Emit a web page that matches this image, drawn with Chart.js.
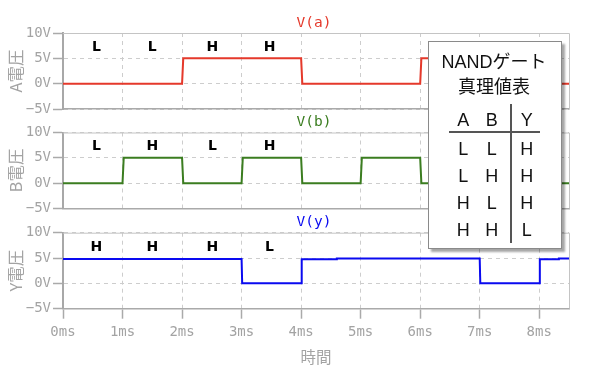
<!DOCTYPE html>
<html>
<head>
<meta charset="utf-8">
<script src="https://cdn.jsdelivr.net/npm/chart.js@4.4.1/dist/chart.umd.min.js"></script>
<style>
  body { margin: 0; background: #fff; }
  #wrap { position: relative; width: 600px; height: 374px; overflow: hidden; }
  #wrap canvas { position: absolute; left: 0; top: 0; }
  #box { position: absolute; left: 428px; top: 41px; width: 132px; height: 206px;
         background: #fff; border: 1px solid #8a8a8a; box-shadow: 3px 3px 2px rgba(0,0,0,0.35); }
  .cell { position: absolute; font-family: "Liberation Sans", "Noto Sans CJK JP", sans-serif;
          font-size: 18px; line-height: 18px; color: #111; text-align: center; white-space: nowrap; }
  .rule { position: absolute; background: #555; }
</style>
</head>
<body>
<div id="wrap">
  <canvas id="chartA" width="600" height="374"></canvas>
  <canvas id="chartB" width="600" height="374"></canvas>
  <canvas id="chartY" width="600" height="374"></canvas>
  <div id="box"></div>
  <div id="truth"></div>
</div>
<script>
// waveforms (ms, V)
const timesA = [0, 2, 2.02, 4, 4.02, 6, 6.02, 8, 8.02, 8.5];
const voltsA = [0, 0, 5, 5, 0, 0, 5, 5, 0, 0];
const timesB = [0, 1, 1.02, 2, 2.02, 3, 3.02, 4, 4.02, 5, 5.02, 6, 6.02, 7, 7.02, 8, 8.02, 8.5];
const voltsB = [0, 0, 5, 5, 0, 0, 5, 5, 0, 0, 5, 5, 0, 0, 5, 5, 0, 0];
const timesY = [0, 3, 3.01, 4, 4.01, 4.6, 4.6, 7, 7.01, 8, 8.01, 8.33, 8.33, 8.5];
const voltsY = [4.8, 4.8, 0, 0, 4.75, 4.75, 4.9, 4.9, 0, 0, 4.75, 4.75, 4.9, 4.9];

// logic level marks above each trace
const levelTimes = [0.56, 1.5, 2.51, 3.47];
const levelVolt = 7.2;
const levelsA = ["L", "L", "H", "H"];
const levelsB = ["L", "H", "L", "H"];
const levelsY = ["H", "H", "H", "L"];

// truth table
const truthTitle = ["NANDゲート", "真理値表"];
const truthHead = ["A", "B", "Y"];
const truthA = ["L", "L", "H", "H"];
const truthB = ["L", "H", "L", "H"];
const truthY = ["H", "H", "H", "L"];

const gray = "#a3a3a3";
const tickFont = { family: "'DejaVu Sans Mono', monospace", size: 14 };
const areaTops = [33, 132.5, 232.7];
const areaHeight = 76;

const decor = {
  id: "decor",
  beforeDatasetsDraw(chart) {
    const { ctx, chartArea: a } = chart;
    ctx.save();
    ctx.strokeStyle = "#c4c4c4";
    ctx.lineWidth = 1;
    ctx.beginPath();
    ctx.moveTo(a.left, a.top + 0.5);
    ctx.lineTo(a.right + 0.5, a.top + 0.5);
    ctx.lineTo(a.right + 0.5, a.bottom);
    ctx.stroke();
    ctx.restore();
  },
  afterDatasetsDraw(chart, args, opts) {
    const { ctx, chartArea: a, scales: { x, y } } = chart;
    ctx.save();
    ctx.textAlign = "center";
    ctx.textBaseline = "middle";
    ctx.fillStyle = "#000";
    ctx.font = "bold 14px 'DejaVu Sans'";
    opts.levels.forEach((s, i) => {
      ctx.fillText(s, x.getPixelForValue(levelTimes[i]), y.getPixelForValue(levelVolt));
    });
    ctx.fillStyle = opts.color;
    ctx.font = "14.5px 'DejaVu Sans Mono'";
    ctx.fillText(opts.name, (a.left + a.right) / 2 - 2, a.top - 10);
    ctx.restore();
  },
};

function makeChart(id, times, volts, color, name, levels, axisTitle, row) {
  const last = row === 2;
  const top = areaTops[row];
  const points = times.map((t, i) => ({ x: t, y: volts[i] }));
  return new Chart(document.getElementById(id), {
    type: "line",
    data: {
      datasets: [{
        data: points,
        borderColor: color,
        borderWidth: 2,
        pointRadius: 0,
        tension: 0,
        fill: false,
      }],
    },
    options: {
      responsive: false,
      animation: false,
      layout: { padding: { top: top, right: 31, left: 0, bottom: last ? 5 : 374 - top - areaHeight } },
      plugins: {
        legend: { display: false },
        tooltip: { enabled: false },
        decor: { levels: levels, name: name, color: color },
      },
      scales: {
        x: {
          type: "linear",
          min: 0,
          max: 8.5,
          afterFit: (s) => { s.height = last ? 374 - 5 - (top + areaHeight) : 0; },
          ticks: {
            display: last,
            stepSize: 1,
            includeBounds: false,
            padding: 5,
            color: gray,
            font: tickFont,
            callback: (v) => v + "ms",
          },
          grid: { color: "#cdcdcd", lineWidth: 1, drawTicks: last, tickLength: 10, tickColor: "#aaaaaa", tickWidth: 1.5 },
          border: { display: true, color: "#aaaaaa", width: 1.5, dash: [4, 4] },
          title: {
            display: last,
            text: "時間",
            color: gray,
            font: { family: "'Noto Sans CJK JP'", size: 15.5 },
            padding: { top: 0, bottom: 3 },
          },
        },
        y: {
          min: -5,
          max: 10,
          afterFit: (s) => { s.width = 63; },
          ticks: {
            stepSize: 5,
            padding: 2,
            color: gray,
            font: tickFont,
            callback: (v) => (v < 0 ? "−" + Math.abs(v) : v) + "V",
          },
          grid: { color: "#cdcdcd", lineWidth: 1, drawTicks: true, tickLength: 10, tickColor: "#aaaaaa", tickWidth: 1.5 },
          border: { display: true, color: "#a8a8a8", width: 2, dash: [4, 4] },
          title: {
            display: true,
            text: axisTitle,
            color: gray,
            font: { family: "'Noto Sans CJK JP'", size: 16.5 },
            padding: { top: 6, bottom: 0 },
          },
        },
      },
    },
    plugins: [decor],
  });
}

makeChart("chartA", timesA, voltsA, "#e5392b", "V(a)", levelsA, "A電圧", 0);
makeChart("chartB", timesB, voltsB, "#3b7d20", "V(b)", levelsB, "B電圧", 1);
makeChart("chartY", timesY, voltsY, "#0a0af0", "V(y)", levelsY, "Y電圧", 2);

// truth table overlay
const truth = document.getElementById("truth");
function cell(text, cx, cy, w) {
  const d = document.createElement("div");
  d.className = "cell";
  d.textContent = text;
  d.style.left = (cx - w / 2) + "px";
  d.style.top = (cy - 8.8) + "px";
  d.style.width = w + "px";
  truth.appendChild(d);
}
function rule(x, y, w, h) {
  const d = document.createElement("div");
  d.className = "rule";
  d.style.left = x + "px";
  d.style.top = y + "px";
  d.style.width = w + "px";
  d.style.height = h + "px";
  truth.appendChild(d);
}
const colX = [463.3, 491.7, 526.7];
const rowY = [148.3, 175.7, 202.3, 229.3];
cell(truthTitle[0], 494, 61.7, 130);
cell(truthTitle[1], 494, 86.7, 130);
truthHead.forEach((h, i) => cell(h, colX[i], 120, 24));
[truthA, truthB, truthY].forEach((col, i) => {
  col.forEach((v, j) => cell(v, colX[i], rowY[j], 24));
});
rule(449, 131, 91, 1.5);
rule(510, 104, 1.5, 139);
</script>
</body>
</html>
